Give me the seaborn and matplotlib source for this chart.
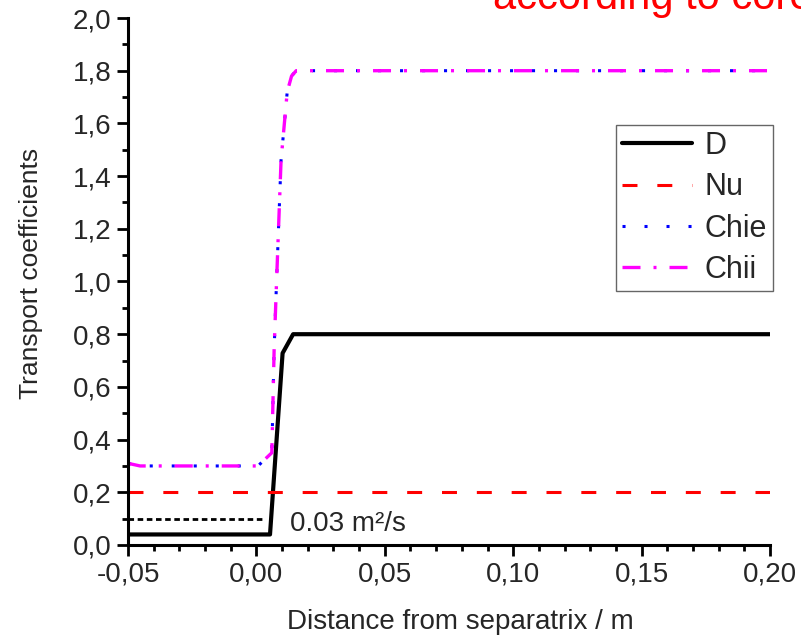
import numpy as np
import pandas as pd
import matplotlib
matplotlib.use("Agg")
import matplotlib.pyplot as plt
import seaborn as sns
from matplotlib.ticker import FuncFormatter, MultipleLocator

# data
d_x = [-0.05, 0.0053, 0.0102, 0.0143, 0.20]
d_y = [0.04, 0.04, 0.728, 0.80, 0.80]

nu_x = [-0.05, 0.20]
nu_y = [0.20, 0.20]

chi_x = [-0.05, -0.0453, 0.0006, 0.0060, 0.0069, 0.0077, 0.0096, 0.0120, 0.0137, 0.0155, 0.20]
chie_y = [0.31, 0.30, 0.30, 0.35, 0.74, 0.96, 1.46, 1.72, 1.78, 1.80, 1.80]
chii_y = [0.31, 0.30, 0.30, 0.35, 0.74, 0.96, 1.46, 1.72, 1.78, 1.80, 1.80]

ref_x = [-0.05, 0.0026]
ref_y = [0.10, 0.10]

sns.set_theme(style="ticks")
plt.rcParams["font.family"] = ["Liberation Sans", "DejaVu Sans"]

fig = plt.figure(figsize=(8.01, 6.38), dpi=100)
ax = fig.add_axes([128 / 801, 1 - 545 / 638, (770 - 128) / 801, (545 - 18) / 638])

sns.lineplot(x=d_x, y=d_y, ax=ax, color="black", lw=3.0, label="D", sort=False)
sns.lineplot(x=nu_x, y=nu_y, ax=ax, color="#ff0000", lw=2.2,
             linestyle=(0, (4.9, 6.5)), label="Nu", sort=False)
sns.lineplot(x=chi_x, y=chie_y, ax=ax, color="#0000ff", lw=2.2,
             linestyle=(0, (1, 6.2)), label="Chie", sort=False)
sns.lineplot(x=chi_x, y=chii_y, ax=ax, color="#ff00ff", lw=2.4,
             linestyle=(0, (5.4, 3.9, 0.9, 3.9)), label="Chii", sort=False)
sns.lineplot(x=ref_x, y=ref_y, ax=ax, color="black", lw=2.0,
             linestyle=(0, (2, 1.3)), legend=False, sort=False)

ax.text(0.0131, 0.053, "0.03 m²/s", fontsize=20, va="baseline", ha="left")

ax.set_xlim(-0.05, 0.20)
ax.set_ylim(0.0, 2.0)
ax.xaxis.set_major_locator(MultipleLocator(0.05))
ax.xaxis.set_minor_locator(MultipleLocator(0.01))
ax.yaxis.set_major_locator(MultipleLocator(0.2))
ax.yaxis.set_minor_locator(MultipleLocator(0.1))
ax.xaxis.set_major_formatter(FuncFormatter(lambda v, p: f"{v:.2f}".replace(".", ",").replace("-0,00", "0,00")))
ax.yaxis.set_major_formatter(FuncFormatter(lambda v, p: f"{v:.1f}".replace(".", ",")))

ax.tick_params(which="major", direction="out", length=8, width=2, labelsize=20, color="black", pad=4)
ax.tick_params(which="minor", direction="out", length=4.5, width=2, color="black")
sns.despine(ax=ax)
for s in ["left", "bottom"]:
    ax.spines[s].set_linewidth(2.2)
    ax.spines[s].set_color("black")

ax.set_xlabel("Distance from separatrix / m", fontsize=20)
ax.xaxis.set_label_coords(0.517, -0.121)
ax.set_ylabel("Transport coefficients", fontsize=19)
ax.yaxis.set_label_coords(-0.133, 0.516)

leg = ax.legend(loc="upper right", bbox_to_anchor=(1.0047, 0.797), fontsize=22,
                frameon=True, fancybox=False, handlelength=2.3,
                handletextpad=0.4, borderpad=0.2, labelspacing=0.37, borderaxespad=0)
leg.get_frame().set_edgecolor("#404040")
leg.get_frame().set_linewidth(1.0)

fig.text(493 / 801, 1 - 9 / 638, "according to core", color="#ff0000",
         fontsize=30, ha="left", va="baseline")

fig.savefig("out.png", dpi=100)
